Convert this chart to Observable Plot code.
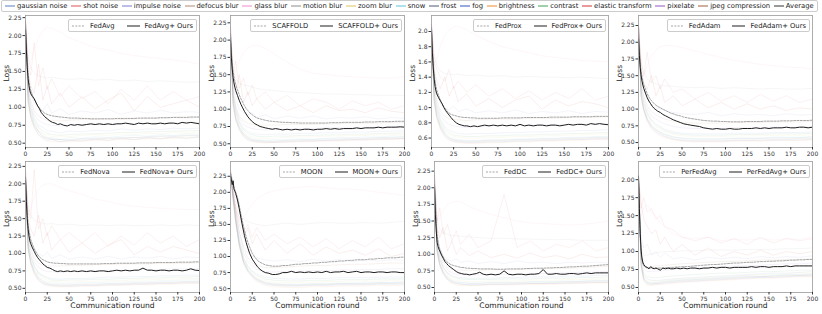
<!DOCTYPE html>
<html><head><meta charset="utf-8">
<script src="https://cdn.jsdelivr.net/npm/d3@7"></script>
<script src="https://cdn.jsdelivr.net/npm/@observablehq/plot@0.6"></script>
<style>
body{margin:0;background:#fff;}
#root{position:relative;width:822px;height:314px;overflow:hidden;font-family:"DejaVu Sans",sans-serif;color:#222;}
#root svg.plot{position:absolute;}
.leg{position:absolute;display:flex;align-items:center;height:13px;box-sizing:border-box;padding:0 3px;border:0.8px solid #ccc;border-radius:2px;background:rgba(255,255,255,0.85);font-size:6.8px;white-space:nowrap;}
.leg svg{margin-right:5px;}
.leg .gap{display:inline-block;width:12px;}
#topleg{position:absolute;left:1px;top:0;width:817px;height:12px;box-sizing:border-box;border:0.8px solid #ccc;border-radius:2px;display:flex;justify-content:space-between;align-items:center;padding:0 3px;font-size:6.8px;white-space:nowrap;}
#topleg .it{display:flex;align-items:center;}
#topleg svg{margin-right:2px;}
</style></head><body><div id="root"><div id="topleg"></div></div>
<script>
// ---------- shared labels ----------
const corruptions = ["gaussian noise","shot noise","impulse noise","defocus blur","glass blur","motion blur","zoom blur","snow","frost","fog","brightness","contrast","elastic transform","pixelate","jpeg compression"];
const corruptionColors = ["#5b7fc0","#e0505a","#7b7bd2","#b08e72","#f08cc8","#8c8c8c","#dcc35a","#62c2da","#4c5873","#3553c4","#f08a34","#3ea356","#d23434","#9455c4","#a0603a"];
const averageColor = "#333333";
const xTicks = [0,25,50,75,100,125,150,175,200];
const yTicks25 = [0.5,0.75,1.0,1.25,1.5,1.75,2.0,2.25];
const yTicksProx = [0.6,0.8,1.0,1.2,1.4,1.6,1.8,2.0];
const yTicksPer = [0.5,0.75,1.0,1.25,1.5,1.75,2.0];

// rounds at which the average curves were read
const mainRounds = [0,1,2,3,4,5,6,8,10,12,14,16,18,20,22,25,28,31,34,37,40,44,48,52,56,60,65,70,75,80,85,90,95,100,105,110,115,120,125,130,135,140,145,150,155,160,165,170,175,180,185,190,195,200];
// rounds at which the faint per-corruption curves were read
const faintRounds = [0,3,6,10,15,20,25,30,40,50,65,80,95,110,125,140,155,170,185,200];

// ---------- FedAvg ----------
const fedavgOurs = [2.08,1.80,1.56,1.40,1.30,1.23,1.19,1.15,1.12,1.07,1.02,0.98,0.93,0.90,0.87,0.84,0.81,0.79,0.78,0.76,0.77,0.75,0.74,0.76,0.75,0.76,0.75,0.76,0.77,0.76,0.77,0.76,0.77,0.76,0.77,0.77,0.78,0.77,0.76,0.78,0.77,0.78,0.77,0.77,0.78,0.77,0.78,0.78,0.77,0.79,0.78,0.79,0.78,0.77];
const fedavgBase = [2.12,1.86,1.63,1.47,1.36,1.29,1.24,1.17,1.11,1.06,1.02,0.99,0.96,0.94,0.92,0.90,0.89,0.88,0.875,0.87,0.865,0.86,0.855,0.85,0.85,0.85,0.845,0.845,0.84,0.84,0.84,0.84,0.84,0.84,0.845,0.845,0.845,0.845,0.845,0.85,0.85,0.85,0.85,0.85,0.855,0.855,0.855,0.86,0.86,0.86,0.86,0.865,0.865,0.865];
const fedavgFaint = [
 [2.2,1.2,1.0,0.86,0.75,0.72,0.67,0.67,0.64,0.67,0.66,0.68,0.67,0.7,0.68,0.7,0.69,0.71,0.7,0.71],
 [2.2,1.6,1.45,1.9,1.3,1.55,1.25,1.4,1.15,1.3,1.12,1.22,1.05,1.25,1.1,1.3,1.1,1.22,1.1,1.15],
 [2.2,1.4,1.2,1.05,1.0,0.95,1.05,0.92,0.98,0.9,0.95,0.92,0.97,0.9,0.95,0.92,0.96,0.92,0.94,0.93],
 [2.2,1.1,0.88,0.74,0.66,0.58,0.57,0.55,0.55,0.53,0.56,0.55,0.57,0.56,0.58,0.57,0.59,0.58,0.6,0.6],
 [2.2,1.55,1.65,1.8,1.97,2.07,2.12,2.1,2.05,1.97,1.9,1.83,1.8,1.75,1.72,1.7,1.68,1.66,1.64,1.6],
 [2.1,1.7,1.55,1.48,1.44,1.42,1.41,1.42,1.4,1.39,1.4,1.38,1.39,1.37,1.38,1.36,1.37,1.36,1.35,1.35],
 [2.2,1.15,0.95,0.8,0.71,0.63,0.62,0.59,0.6,0.59,0.61,0.62,0.61,0.63,0.62,0.64,0.63,0.65,0.64,0.66],
 [2.2,1.12,0.92,0.78,0.67,0.63,0.58,0.58,0.55,0.58,0.57,0.59,0.58,0.6,0.61,0.6,0.62,0.61,0.63,0.63],
 [2.2,1.1,0.9,0.76,0.66,0.6,0.57,0.56,0.55,0.55,0.56,0.57,0.57,0.58,0.58,0.59,0.6,0.6,0.61,0.61],
 [2.2,1.08,0.86,0.73,0.62,0.58,0.54,0.55,0.52,0.54,0.53,0.56,0.54,0.57,0.55,0.58,0.56,0.59,0.57,0.59],
 [2.2,1.05,0.84,0.71,0.61,0.56,0.53,0.52,0.52,0.52,0.53,0.54,0.54,0.55,0.55,0.56,0.56,0.57,0.57,0.58],
 [2.2,1.18,0.98,0.82,0.72,0.67,0.64,0.62,0.61,0.62,0.63,0.63,0.64,0.65,0.65,0.66,0.66,0.67,0.67,0.68],
 [2.2,1.5,1.3,1.2,1.6,1.1,1.3,1.05,1.2,1.0,1.15,0.98,1.1,1.2,0.95,1.15,1.0,1.05,1.1,1.0],
 [2.2,1.25,1.05,0.9,0.82,0.78,0.76,0.75,0.74,0.75,0.76,0.76,0.77,0.77,0.77,0.78,0.78,0.78,0.79,0.79],
 [2.2,1.3,1.1,0.95,0.88,0.84,0.82,0.82,0.81,0.82,0.83,0.83,0.84,0.83,0.84,0.85,0.85,0.86,0.85,0.86]
];

// ---------- SCAFFOLD ----------
const scaffoldOurs = [2.0,1.75,1.58,1.46,1.38,1.32,1.27,1.2,1.13,1.07,1.02,0.97,0.93,0.89,0.86,0.82,0.79,0.77,0.75,0.74,0.73,0.72,0.71,0.72,0.71,0.70,0.71,0.70,0.71,0.70,0.71,0.71,0.70,0.71,0.71,0.72,0.71,0.72,0.71,0.72,0.72,0.72,0.73,0.72,0.73,0.73,0.73,0.74,0.73,0.74,0.74,0.74,0.745,0.74];
const scaffoldBase = [2.05,1.82,1.66,1.55,1.47,1.41,1.36,1.28,1.21,1.15,1.1,1.05,1.01,0.98,0.95,0.92,0.89,0.87,0.86,0.85,0.84,0.83,0.825,0.82,0.815,0.81,0.81,0.805,0.805,0.80,0.80,0.80,0.80,0.80,0.80,0.80,0.805,0.805,0.805,0.81,0.81,0.81,0.81,0.81,0.815,0.815,0.815,0.82,0.82,0.82,0.82,0.825,0.825,0.825];
const scaffoldFaint = [
 [2.1,1.2,0.98,0.83,0.72,0.68,0.65,0.64,0.63,0.64,0.64,0.65,0.65,0.66,0.66,0.67,0.67,0.68,0.68,0.69],
 [2.2,1.5,1.7,1.3,1.45,1.2,1.35,1.15,1.25,1.1,1.2,1.05,1.15,1.1,1.0,1.12,1.05,1.1,1.0,1.05],
 [2.2,1.35,1.15,1.0,0.95,0.92,0.95,0.88,0.92,0.86,0.9,0.87,0.9,0.86,0.88,0.87,0.89,0.86,0.88,0.87],
 [2.1,1.08,0.86,0.72,0.63,0.57,0.55,0.54,0.53,0.53,0.54,0.54,0.55,0.55,0.56,0.56,0.57,0.57,0.58,0.58],
 [2.2,1.45,1.55,1.7,1.82,1.88,1.92,1.93,1.88,1.8,1.68,1.58,1.52,1.5,1.48,1.47,1.46,1.45,1.45,1.47],
 [2.1,1.6,1.45,1.38,1.35,1.34,1.32,1.3,1.28,1.27,1.25,1.24,1.23,1.22,1.22,1.21,1.21,1.2,1.2,1.2],
 [2.1,1.13,0.93,0.78,0.68,0.62,0.6,0.58,0.58,0.58,0.59,0.6,0.6,0.61,0.61,0.62,0.62,0.63,0.63,0.64],
 [2.1,1.1,0.9,0.76,0.65,0.6,0.57,0.56,0.55,0.56,0.56,0.57,0.57,0.58,0.59,0.59,0.6,0.6,0.61,0.61],
 [2.1,1.1,0.88,0.74,0.64,0.59,0.56,0.55,0.54,0.54,0.55,0.56,0.56,0.57,0.57,0.58,0.58,0.59,0.59,0.6],
 [2.1,1.06,0.85,0.71,0.61,0.56,0.54,0.53,0.52,0.52,0.53,0.54,0.54,0.55,0.55,0.56,0.56,0.57,0.57,0.58],
 [2.1,1.04,0.83,0.7,0.6,0.55,0.53,0.52,0.51,0.52,0.52,0.53,0.53,0.54,0.54,0.55,0.55,0.56,0.56,0.57],
 [2.1,1.16,0.96,0.8,0.7,0.65,0.63,0.61,0.6,0.61,0.61,0.62,0.62,0.63,0.63,0.64,0.64,0.65,0.65,0.66],
 [2.2,1.4,1.25,1.5,1.1,1.25,1.05,1.15,1.0,1.1,0.98,1.05,0.95,1.05,0.98,1.0,0.95,1.02,0.97,0.95],
 [2.1,1.22,1.02,0.87,0.78,0.74,0.72,0.71,0.7,0.71,0.71,0.72,0.72,0.73,0.73,0.73,0.74,0.74,0.74,0.75],
 [2.1,1.28,1.05,0.9,0.83,0.8,0.78,0.77,0.77,0.77,0.78,0.78,0.78,0.79,0.79,0.8,0.8,0.8,0.81,0.81]
];

// ---------- FedProx ----------
const fedproxOurs = [2.0,1.72,1.52,1.38,1.28,1.22,1.18,1.13,1.09,1.05,1.0,0.96,0.93,0.9,0.87,0.83,0.8,0.78,0.77,0.76,0.76,0.75,0.76,0.75,0.76,0.77,0.76,0.77,0.76,0.77,0.76,0.77,0.76,0.78,0.76,0.77,0.76,0.77,0.77,0.76,0.77,0.77,0.76,0.77,0.78,0.77,0.78,0.78,0.77,0.79,0.78,0.79,0.78,0.775];
const fedproxBase = [2.05,1.78,1.58,1.45,1.35,1.28,1.23,1.16,1.1,1.05,1.01,0.98,0.95,0.93,0.91,0.9,0.89,0.88,0.875,0.87,0.87,0.865,0.865,0.86,0.86,0.86,0.86,0.86,0.86,0.865,0.865,0.865,0.865,0.865,0.87,0.87,0.87,0.87,0.87,0.87,0.875,0.875,0.875,0.875,0.875,0.88,0.88,0.88,0.88,0.88,0.885,0.885,0.885,0.885];
const fedproxFaint = [
 [2.05,1.2,1.0,0.85,0.75,0.7,0.68,0.66,0.65,0.66,0.66,0.67,0.67,0.68,0.68,0.69,0.69,0.7,0.7,0.71],
 [2.1,1.6,1.5,1.4,1.35,1.5,1.25,1.35,1.2,1.3,1.15,1.25,1.12,1.22,1.1,1.2,1.12,1.25,1.1,1.15],
 [2.1,1.4,1.2,1.05,1.0,0.97,1.02,0.95,0.98,0.93,0.96,0.93,0.97,0.92,0.95,0.93,0.96,0.92,0.95,0.94],
 [2.05,1.1,0.88,0.75,0.65,0.6,0.57,0.56,0.55,0.55,0.56,0.56,0.57,0.57,0.58,0.58,0.59,0.59,0.6,0.6],
 [2.1,1.55,1.65,1.8,1.95,2.02,2.06,2.07,2.02,1.95,1.87,1.8,1.76,1.72,1.68,1.66,1.64,1.62,1.61,1.6],
 [2.05,1.7,1.55,1.48,1.45,1.44,1.43,1.44,1.42,1.43,1.41,1.42,1.4,1.41,1.4,1.4,1.39,1.4,1.39,1.38],
 [2.05,1.15,0.95,0.8,0.7,0.65,0.62,0.61,0.6,0.6,0.61,0.61,0.62,0.62,0.63,0.63,0.64,0.64,0.65,0.65],
 [2.05,1.12,0.92,0.78,0.68,0.62,0.59,0.58,0.57,0.57,0.58,0.58,0.59,0.59,0.6,0.6,0.61,0.61,0.62,0.62],
 [2.05,1.1,0.9,0.76,0.66,0.6,0.58,0.57,0.56,0.56,0.57,0.57,0.58,0.58,0.59,0.59,0.6,0.6,0.61,0.61],
 [2.05,1.08,0.87,0.73,0.63,0.58,0.56,0.55,0.54,0.54,0.55,0.55,0.56,0.56,0.57,0.57,0.58,0.58,0.59,0.59],
 [2.05,1.06,0.85,0.71,0.61,0.57,0.55,0.54,0.53,0.53,0.54,0.54,0.55,0.55,0.56,0.56,0.57,0.57,0.58,0.58],
 [2.05,1.18,0.98,0.82,0.72,0.67,0.64,0.63,0.62,0.62,0.63,0.63,0.64,0.64,0.65,0.65,0.66,0.66,0.67,0.67],
 [2.1,1.5,1.35,1.25,1.4,1.15,1.28,1.08,1.18,1.02,1.12,1.0,1.1,1.15,0.98,1.1,1.02,1.08,1.05,1.0],
 [2.05,1.25,1.05,0.9,0.82,0.78,0.76,0.75,0.74,0.75,0.76,0.76,0.77,0.77,0.77,0.78,0.78,0.78,0.79,0.79],
 [2.05,1.3,1.1,0.95,0.88,0.85,0.84,0.84,0.83,0.84,0.85,0.85,0.85,0.86,0.86,0.86,0.87,0.87,0.87,0.88]
];

// ---------- FedAdam ----------
const fedadamOurs = [2.05,1.8,1.62,1.5,1.42,1.36,1.31,1.24,1.17,1.12,1.08,1.04,1.01,0.99,0.97,0.95,0.92,0.9,0.88,0.86,0.84,0.82,0.8,0.78,0.77,0.76,0.75,0.74,0.72,0.71,0.70,0.71,0.70,0.70,0.71,0.70,0.70,0.71,0.71,0.71,0.72,0.71,0.72,0.71,0.72,0.72,0.72,0.73,0.72,0.72,0.73,0.73,0.72,0.73];
const fedadamBase = [2.1,1.85,1.68,1.56,1.48,1.42,1.37,1.3,1.23,1.18,1.14,1.11,1.08,1.06,1.04,1.02,1.0,0.98,0.96,0.94,0.93,0.91,0.9,0.88,0.87,0.86,0.85,0.84,0.83,0.825,0.82,0.82,0.815,0.815,0.81,0.81,0.81,0.81,0.815,0.815,0.815,0.815,0.82,0.82,0.82,0.82,0.825,0.825,0.825,0.83,0.83,0.83,0.83,0.835];
const fedadamFaint = [
 [2.25,1.3,1.1,0.95,0.84,0.78,0.74,0.7,0.66,0.64,0.63,0.63,0.63,0.64,0.64,0.64,0.65,0.65,0.65,0.66],
 [2.25,1.7,1.5,1.85,1.4,1.5,1.3,1.45,1.25,1.3,1.15,1.25,1.12,1.2,1.1,1.22,1.12,1.2,1.1,1.15],
 [2.25,1.5,1.3,1.15,1.05,1.02,1.0,0.98,0.95,0.93,0.92,0.95,0.9,0.93,0.91,0.92,0.9,0.93,0.91,0.92],
 [2.25,1.2,1.0,0.85,0.74,0.68,0.64,0.6,0.56,0.54,0.53,0.53,0.53,0.54,0.54,0.55,0.55,0.55,0.56,0.56],
 [2.25,1.45,1.5,1.65,1.8,1.88,1.93,1.95,1.95,1.92,1.87,1.82,1.77,1.73,1.7,1.67,1.65,1.63,1.62,1.6],
 [2.15,1.7,1.55,1.45,1.4,1.38,1.36,1.35,1.34,1.33,1.32,1.33,1.31,1.32,1.31,1.3,1.31,1.3,1.3,1.31],
 [2.25,1.25,1.05,0.9,0.79,0.73,0.69,0.66,0.62,0.6,0.59,0.59,0.59,0.6,0.6,0.6,0.61,0.61,0.61,0.62],
 [2.25,1.22,1.02,0.87,0.76,0.7,0.66,0.63,0.59,0.57,0.56,0.56,0.56,0.57,0.57,0.57,0.58,0.58,0.58,0.59],
 [2.25,1.2,1.0,0.85,0.75,0.69,0.65,0.62,0.58,0.56,0.55,0.55,0.55,0.56,0.56,0.56,0.57,0.57,0.57,0.58],
 [2.25,1.18,0.98,0.83,0.72,0.66,0.62,0.59,0.55,0.53,0.52,0.52,0.52,0.53,0.53,0.53,0.54,0.54,0.54,0.55],
 [2.25,1.16,0.96,0.81,0.7,0.64,0.6,0.57,0.54,0.52,0.51,0.51,0.51,0.52,0.52,0.52,0.53,0.53,0.53,0.54],
 [2.25,1.28,1.08,0.93,0.82,0.76,0.72,0.68,0.64,0.62,0.61,0.61,0.61,0.62,0.62,0.62,0.63,0.63,0.63,0.64],
 [2.25,1.6,1.4,1.3,1.5,1.2,1.35,1.1,1.2,1.05,1.15,1.02,1.1,1.0,1.08,1.0,1.05,0.98,1.02,1.0],
 [2.25,1.35,1.15,1.0,0.9,0.85,0.81,0.78,0.74,0.72,0.71,0.71,0.71,0.72,0.72,0.72,0.73,0.73,0.73,0.74],
 [2.25,1.4,1.2,1.05,0.96,0.91,0.88,0.85,0.82,0.8,0.79,0.79,0.79,0.8,0.8,0.8,0.81,0.81,0.81,0.82]
];

// ---------- FedNova ----------
const fednovaOurs = [2.05,1.75,1.5,1.35,1.25,1.18,1.14,1.08,1.03,0.98,0.94,0.91,0.88,0.85,0.83,0.8,0.79,0.77,0.75,0.74,0.75,0.74,0.75,0.74,0.75,0.74,0.75,0.74,0.75,0.74,0.75,0.75,0.74,0.75,0.76,0.75,0.76,0.75,0.76,0.76,0.79,0.76,0.76,0.75,0.76,0.76,0.75,0.76,0.76,0.75,0.76,0.78,0.76,0.755];
const fednovaBase = [2.1,1.82,1.58,1.43,1.33,1.26,1.2,1.13,1.07,1.02,0.98,0.95,0.93,0.91,0.9,0.88,0.87,0.865,0.86,0.86,0.855,0.855,0.85,0.85,0.85,0.85,0.85,0.85,0.85,0.85,0.85,0.855,0.855,0.855,0.86,0.86,0.86,0.86,0.86,0.865,0.865,0.865,0.865,0.87,0.87,0.87,0.87,0.87,0.875,0.875,0.875,0.875,0.88,0.88];
const fednovaFaint = [
 [2.1,1.15,0.95,0.82,0.72,0.68,0.66,0.64,0.63,0.64,0.64,0.65,0.66,0.66,0.67,0.67,0.68,0.68,0.69,0.69],
 [2.2,1.6,1.5,2.2,1.35,1.5,1.25,1.4,1.2,1.3,1.15,1.3,1.1,1.25,1.12,1.3,1.15,1.25,1.1,1.2],
 [2.2,1.4,1.2,1.05,1.0,0.96,1.02,0.93,0.98,0.92,0.95,0.92,0.96,0.92,0.95,0.93,0.96,0.92,0.95,0.94],
 [2.1,1.08,0.87,0.73,0.63,0.58,0.56,0.55,0.54,0.54,0.55,0.55,0.56,0.56,0.57,0.57,0.58,0.58,0.59,0.59],
 [2.2,1.55,1.65,1.8,1.92,1.98,2.0,2.0,1.95,1.9,1.85,1.78,1.75,1.7,1.68,1.66,1.65,1.64,1.63,1.63],
 [2.1,1.7,1.55,1.48,1.45,1.43,1.42,1.43,1.41,1.42,1.4,1.41,1.4,1.41,1.4,1.4,1.41,1.4,1.41,1.4],
 [2.1,1.12,0.93,0.79,0.69,0.64,0.61,0.6,0.59,0.59,0.6,0.6,0.61,0.61,0.62,0.62,0.63,0.63,0.64,0.64],
 [2.1,1.1,0.9,0.77,0.67,0.61,0.59,0.58,0.57,0.57,0.58,0.58,0.59,0.59,0.6,0.6,0.61,0.61,0.62,0.62],
 [2.1,1.08,0.88,0.75,0.65,0.6,0.57,0.56,0.55,0.55,0.56,0.56,0.57,0.57,0.58,0.58,0.59,0.59,0.6,0.6],
 [2.1,1.06,0.86,0.72,0.62,0.57,0.55,0.54,0.53,0.53,0.54,0.54,0.55,0.55,0.56,0.56,0.57,0.57,0.58,0.58],
 [2.1,1.04,0.84,0.7,0.6,0.56,0.54,0.53,0.52,0.52,0.53,0.53,0.54,0.54,0.55,0.55,0.56,0.56,0.57,0.57],
 [2.1,1.16,0.97,0.82,0.72,0.67,0.64,0.62,0.61,0.62,0.62,0.63,0.63,0.64,0.64,0.65,0.65,0.66,0.66,0.67],
 [2.2,1.5,1.35,1.25,1.55,1.15,1.3,1.05,1.2,1.02,1.15,1.0,1.12,1.2,0.98,1.1,1.02,1.1,1.05,1.0],
 [2.1,1.22,1.03,0.88,0.8,0.76,0.74,0.74,0.73,0.74,0.75,0.75,0.76,0.76,0.76,0.77,0.77,0.78,0.78,0.78],
 [2.1,1.28,1.08,0.93,0.86,0.83,0.82,0.82,0.82,0.83,0.83,0.84,0.84,0.85,0.85,0.85,0.86,0.86,0.86,0.87]
];

// ---------- MOON ----------
const moonOurs = [2.25,2.2,2.12,2.18,2.05,2.02,1.98,1.88,1.75,1.6,1.46,1.33,1.22,1.13,1.05,0.96,0.9,0.84,0.8,0.77,0.75,0.74,0.72,0.72,0.73,0.75,0.75,0.77,0.75,0.76,0.75,0.76,0.75,0.76,0.75,0.77,0.75,0.76,0.76,0.77,0.75,0.76,0.77,0.75,0.76,0.76,0.75,0.76,0.76,0.75,0.76,0.76,0.75,0.75];
const moonBase = [2.3,2.25,2.18,2.12,2.08,2.04,2.0,1.92,1.8,1.66,1.53,1.41,1.31,1.22,1.15,1.05,0.99,0.94,0.91,0.89,0.87,0.86,0.85,0.85,0.85,0.86,0.86,0.87,0.88,0.88,0.89,0.89,0.9,0.9,0.91,0.91,0.92,0.92,0.93,0.93,0.94,0.94,0.95,0.95,0.95,0.96,0.96,0.97,0.97,0.98,0.98,0.98,0.99,0.99];
const moonFaint = [
 [2.3,1.95,1.6,1.25,0.98,0.85,0.78,0.73,0.68,0.66,0.65,0.65,0.66,0.66,0.67,0.67,0.67,0.68,0.68,0.68],
 [2.35,2.1,1.8,1.6,1.4,1.5,1.3,1.45,1.25,1.35,1.2,1.3,1.15,1.28,1.12,1.25,1.15,1.3,1.12,1.2],
 [2.35,2.0,1.7,1.4,1.15,1.05,1.0,0.98,0.95,0.93,0.95,0.92,0.96,0.93,0.95,0.92,0.95,0.93,0.95,0.94],
 [2.3,1.9,1.55,1.2,0.92,0.78,0.7,0.64,0.58,0.56,0.55,0.55,0.56,0.56,0.57,0.57,0.57,0.58,0.58,0.58],
 [2.3,1.95,1.7,1.55,1.6,1.72,1.82,1.9,1.98,2.02,2.06,2.08,2.09,2.07,2.05,2.05,2.03,2.0,1.98,1.95],
 [2.3,1.95,1.72,1.62,1.58,1.55,1.52,1.5,1.48,1.5,1.52,1.5,1.52,1.53,1.52,1.52,1.53,1.52,1.53,1.55],
 [2.3,1.92,1.58,1.22,0.95,0.82,0.74,0.68,0.62,0.6,0.59,0.6,0.6,0.61,0.61,0.62,0.62,0.62,0.63,0.63],
 [2.3,1.9,1.56,1.2,0.93,0.8,0.72,0.66,0.6,0.58,0.57,0.57,0.58,0.58,0.59,0.59,0.6,0.6,0.6,0.61],
 [2.3,1.9,1.55,1.19,0.92,0.79,0.71,0.65,0.59,0.57,0.56,0.56,0.57,0.57,0.58,0.58,0.58,0.59,0.59,0.6],
 [2.3,1.88,1.53,1.17,0.9,0.77,0.69,0.63,0.57,0.55,0.54,0.54,0.55,0.55,0.56,0.56,0.56,0.57,0.57,0.57],
 [2.3,1.87,1.52,1.16,0.88,0.75,0.67,0.61,0.55,0.53,0.52,0.52,0.53,0.53,0.54,0.54,0.54,0.55,0.55,0.55],
 [2.3,1.93,1.6,1.24,0.97,0.84,0.76,0.71,0.65,0.63,0.62,0.62,0.63,0.63,0.64,0.64,0.64,0.65,0.65,0.65],
 [2.35,2.05,1.75,1.5,1.3,1.45,1.2,1.35,1.1,1.25,1.05,1.2,1.02,1.15,1.05,1.1,1.02,1.12,1.0,1.05],
 [2.3,1.96,1.65,1.3,1.05,0.92,0.85,0.8,0.76,0.76,0.77,0.77,0.78,0.78,0.79,0.79,0.8,0.8,0.81,0.81],
 [2.3,2.0,1.7,1.38,1.12,0.98,0.9,0.86,0.83,0.83,0.84,0.85,0.86,0.86,0.87,0.88,0.88,0.89,0.9,0.9]
];

// ---------- FedDC ----------
const feddcOurs = [2.0,1.6,1.35,1.18,1.12,1.08,1.05,0.99,0.94,0.89,0.86,0.83,0.81,0.79,0.77,0.74,0.72,0.71,0.7,0.7,0.69,0.7,0.71,0.73,0.7,0.69,0.7,0.69,0.7,0.75,0.7,0.69,0.7,0.7,0.69,0.7,0.7,0.71,0.77,0.7,0.7,0.71,0.7,0.7,0.71,0.71,0.7,0.71,0.72,0.71,0.72,0.72,0.72,0.72];
const feddcBase = [2.05,1.7,1.45,1.3,1.2,1.13,1.08,1.01,0.96,0.92,0.89,0.87,0.85,0.84,0.83,0.82,0.81,0.8,0.8,0.79,0.79,0.785,0.785,0.78,0.78,0.78,0.78,0.775,0.775,0.775,0.78,0.78,0.78,0.78,0.785,0.785,0.79,0.79,0.79,0.795,0.795,0.8,0.8,0.805,0.81,0.81,0.815,0.82,0.82,0.825,0.83,0.835,0.84,0.845];
const feddcFaint = [
 [2.05,1.1,0.92,0.8,0.72,0.68,0.66,0.65,0.64,0.64,0.64,0.65,0.65,0.66,0.66,0.66,0.67,0.67,0.68,0.68],
 [2.2,1.5,1.7,1.3,1.45,1.2,1.35,1.15,1.3,1.1,1.2,1.9,1.1,1.2,1.05,1.15,1.1,1.2,1.05,1.1],
 [2.2,1.3,1.1,0.98,0.92,0.9,0.93,0.88,0.9,0.86,0.89,0.86,0.9,0.87,0.88,0.86,0.88,0.87,0.88,0.87],
 [2.05,1.05,0.85,0.72,0.63,0.58,0.56,0.55,0.54,0.54,0.55,0.55,0.56,0.56,0.56,0.57,0.57,0.58,0.58,0.58],
 [2.2,1.5,1.55,1.65,1.75,1.78,1.8,1.79,1.72,1.66,1.6,1.55,1.5,1.47,1.46,1.45,1.44,1.45,1.47,1.5],
 [2.1,1.5,1.38,1.32,1.3,1.28,1.28,1.27,1.26,1.25,1.24,1.24,1.23,1.23,1.22,1.22,1.22,1.21,1.21,1.21],
 [2.05,1.08,0.9,0.77,0.68,0.63,0.61,0.6,0.59,0.59,0.6,0.6,0.6,0.61,0.61,0.61,0.62,0.62,0.63,0.63],
 [2.05,1.06,0.88,0.75,0.66,0.61,0.59,0.58,0.57,0.57,0.58,0.58,0.58,0.59,0.59,0.59,0.6,0.6,0.61,0.61],
 [2.05,1.05,0.86,0.73,0.64,0.6,0.58,0.57,0.56,0.56,0.57,0.57,0.57,0.58,0.58,0.58,0.59,0.59,0.6,0.6],
 [2.05,1.03,0.84,0.71,0.62,0.58,0.56,0.55,0.54,0.54,0.55,0.55,0.55,0.56,0.56,0.56,0.57,0.57,0.58,0.58],
 [2.05,1.02,0.83,0.7,0.61,0.56,0.54,0.53,0.53,0.53,0.54,0.54,0.54,0.55,0.55,0.55,0.56,0.56,0.57,0.57],
 [2.05,1.12,0.94,0.81,0.71,0.66,0.64,0.63,0.62,0.62,0.62,0.63,0.63,0.63,0.64,0.64,0.64,0.65,0.65,0.66],
 [2.2,1.4,1.25,1.4,1.05,1.2,1.0,1.1,0.98,1.05,0.95,1.0,0.94,1.02,0.95,0.98,0.93,1.0,0.95,0.96],
 [2.05,1.18,0.98,0.84,0.76,0.72,0.7,0.7,0.69,0.69,0.7,0.7,0.7,0.71,0.71,0.72,0.72,0.73,0.73,0.74],
 [2.05,1.25,1.03,0.88,0.8,0.77,0.76,0.76,0.76,0.76,0.77,0.77,0.77,0.78,0.78,0.79,0.79,0.8,0.81,0.82]
];

// ---------- PerFedAvg ----------
const perfedavgOurs = [2.05,1.6,1.25,1.02,0.91,0.85,0.82,0.79,0.78,0.76,0.79,0.77,0.76,0.77,0.76,0.74,0.77,0.76,0.77,0.76,0.76,0.77,0.76,0.77,0.76,0.77,0.77,0.76,0.77,0.77,0.78,0.77,0.78,0.78,0.77,0.78,0.78,0.78,0.78,0.79,0.78,0.79,0.79,0.78,0.79,0.79,0.79,0.8,0.79,0.8,0.8,0.8,0.8,0.8];
const perfedavgBase = [2.05,1.55,1.2,0.98,0.88,0.83,0.8,0.78,0.77,0.77,0.77,0.77,0.77,0.77,0.77,0.77,0.77,0.775,0.775,0.78,0.78,0.785,0.785,0.79,0.79,0.795,0.8,0.805,0.81,0.815,0.82,0.82,0.825,0.83,0.835,0.84,0.84,0.845,0.85,0.85,0.855,0.86,0.86,0.865,0.865,0.87,0.87,0.875,0.88,0.88,0.885,0.885,0.89,0.89];
const perfedavgFaint = [
 [2.0,0.85,0.68,0.62,0.6,0.6,0.6,0.61,0.62,0.63,0.64,0.65,0.66,0.67,0.68,0.69,0.7,0.7,0.71,0.72],
 [2.0,1.6,1.75,1.55,1.6,1.45,1.5,1.35,1.3,1.2,1.15,1.2,1.12,1.18,1.1,1.2,1.12,1.18,1.15,1.18],
 [2.0,1.2,1.05,1.1,0.95,1.0,0.92,0.98,0.9,0.92,0.88,0.92,0.9,0.92,0.9,0.93,0.91,0.93,0.92,0.94],
 [2.0,0.8,0.62,0.56,0.55,0.56,0.56,0.57,0.58,0.59,0.6,0.61,0.62,0.63,0.64,0.65,0.65,0.66,0.67,0.67],
 [2.0,1.5,1.6,1.65,1.55,1.5,1.4,1.35,1.25,1.2,1.18,1.2,1.15,1.17,1.16,1.18,1.16,1.18,1.17,1.2],
 [2.0,1.05,0.95,0.95,0.97,0.98,0.99,1.0,1.0,1.01,1.01,1.02,1.02,1.02,1.03,1.03,1.03,1.04,1.04,1.05],
 [2.0,0.84,0.66,0.6,0.59,0.59,0.59,0.6,0.61,0.62,0.63,0.64,0.65,0.66,0.67,0.68,0.68,0.69,0.7,0.7],
 [2.0,0.83,0.64,0.58,0.57,0.57,0.58,0.59,0.6,0.61,0.62,0.63,0.64,0.65,0.66,0.66,0.67,0.68,0.68,0.69],
 [2.0,0.82,0.63,0.57,0.56,0.56,0.57,0.58,0.59,0.6,0.61,0.62,0.63,0.64,0.65,0.65,0.66,0.67,0.67,0.68],
 [2.0,0.8,0.6,0.55,0.54,0.55,0.55,0.56,0.57,0.58,0.59,0.6,0.61,0.62,0.63,0.64,0.64,0.65,0.66,0.66],
 [2.0,0.78,0.58,0.53,0.53,0.54,0.54,0.55,0.56,0.57,0.58,0.59,0.6,0.61,0.62,0.63,0.63,0.64,0.65,0.65],
 [2.0,0.87,0.7,0.65,0.64,0.64,0.64,0.65,0.66,0.67,0.68,0.69,0.7,0.7,0.71,0.72,0.72,0.73,0.74,0.74],
 [2.0,1.7,1.45,1.35,1.25,1.3,1.1,1.2,1.0,1.1,0.95,1.05,0.93,1.0,0.95,1.02,0.95,1.0,0.97,1.0],
 [2.0,0.9,0.76,0.72,0.72,0.73,0.73,0.74,0.75,0.76,0.77,0.78,0.79,0.8,0.8,0.81,0.82,0.83,0.83,0.84],
 [2.0,0.95,0.82,0.78,0.79,0.8,0.8,0.81,0.82,0.83,0.84,0.85,0.86,0.86,0.87,0.88,0.88,0.89,0.89,0.9]
];

// ---------- layout / build ----------
const panels = [
 {name:"FedAvg", ours:fedavgOurs, base:fedavgBase, faint:fedavgFaint, y:[0.44,2.28], ticks:yTicks25, fmt:".2f", fx:25, fy:15, fw:174, fh:132, xl:false},
 {name:"SCAFFOLD", ours:scaffoldOurs, base:scaffoldBase, faint:scaffoldFaint, y:[0.446,2.356], ticks:yTicks25, fmt:".2f", fx:230, fy:15, fw:174, fh:132, xl:false},
 {name:"FedProx", ours:fedproxOurs, base:fedproxBase, faint:fedproxFaint, y:[0.476,2.21], ticks:yTicksProx, fmt:".1f", fx:431, fy:15, fw:177, fh:132, xl:false},
 {name:"FedAdam", ours:fedadamOurs, base:fedadamBase, faint:fedadamFaint, y:[0.426,2.40], ticks:yTicks25, fmt:".2f", fx:638, fy:15, fw:174, fh:132, xl:false},
 {name:"FedNova", ours:fednovaOurs, base:fednovaBase, faint:fednovaFaint, y:[0.44,2.32], ticks:yTicks25, fmt:".2f", fx:25, fy:161, fw:174, fh:131, xl:true},
 {name:"MOON", ours:moonOurs, base:moonBase, faint:moonFaint, y:[0.44,2.48], ticks:yTicks25, fmt:".2f", fx:230, fy:161, fw:174, fh:131, xl:true},
 {name:"FedDC", ours:feddcOurs, base:feddcBase, faint:feddcFaint, y:[0.425,2.395], ticks:yTicks25, fmt:".2f", fx:434, fy:161, fw:174, fh:131, xl:true},
 {name:"PerFedAvg", ours:perfedavgOurs, base:perfedavgBase, faint:perfedavgFaint, y:[0.43,2.253], ticks:yTicksPer, fmt:".2f", fx:638, fy:161, fw:174, fh:131, xl:true}
];

const root = document.getElementById("root");
const mL = 30, mR = 6, mT = 4, mB = 24;
const toRows = (rounds, vals) => rounds.map((r, i) => ({r, v: vals[i]})).filter(d => d.v != null);

for (const p of panels) {
  const faintMarks = p.faint.map((vals, k) =>
    Plot.line(toRows(faintRounds, vals), {x:"r", y:"v", stroke: corruptionColors[k], strokeOpacity:0.14, strokeWidth:0.6, clip:true}));
  const svg = Plot.plot({
    width: p.fw + mL + mR, height: p.fh + mT + mB,
    marginLeft: mL, marginRight: mR, marginTop: mT, marginBottom: mB,
    x: {domain:[0,200]}, y: {domain: p.y},
    style: {fontFamily:'"DejaVu Sans", sans-serif', fontSize:"6px", color:"#333", background:"transparent", overflow:"visible"},
    marks: [
      ...faintMarks,
      Plot.line(toRows(mainRounds, p.base), {x:"r", y:"v", stroke:"#888", strokeWidth:0.75, strokeDasharray:"2,1.3", clip:true}),
      Plot.line(toRows(mainRounds, p.ours), {x:"r", y:"v", stroke:"#1e1e1e", strokeWidth:1.0, clip:true}),
      Plot.frame({stroke:"#9a9a9a", strokeWidth:0.8}),
      Plot.axisX({ticks: xTicks, tickSize:2.5, tickPadding:1.5, label:null, fontSize:6}),
      Plot.axisY({ticks: p.ticks, tickSize:2.5, tickPadding:1.5, tickFormat: d3.format(p.fmt), label:null, fontSize:6}),
      Plot.text(["Loss"], {text: d => d, frameAnchor:"left", dx:-19, rotate:-90, fontSize:7.6, fill:"#222"}),
      ...(p.xl ? [Plot.text(["Communication round"], {text: d => d, frameAnchor:"bottom", dy:15, fontSize:7.6, fill:"#222"})] : [])
    ]
  });
  svg.classList.add("plot");
  svg.style.left = (p.fx - mL) + "px";
  svg.style.top = (p.fy - mT) + "px";
  root.appendChild(svg);

  const lg = document.createElement("div");
  lg.className = "leg";
  lg.style.right = (822 - (p.fx + p.fw) + 2) + "px";
  lg.style.top = (p.fy + 4) + "px";
  lg.innerHTML =
    `<svg width="13" height="6"><line x1="0" x2="13" y1="3" y2="3" stroke="#888" stroke-width="0.75" stroke-dasharray="2,1.3"/></svg><span>${p.name}</span><span class="gap"></span>` +
    `<svg width="13" height="6"><line x1="0" x2="13" y1="3" y2="3" stroke="#1e1e1e" stroke-width="1.0"/></svg><span>${p.name}+ Ours</span>`;
  root.appendChild(lg);
}

// top legend
const topLeg = document.getElementById("topleg");
const legNames = [...corruptions, "Average"];
const legColors = [...corruptionColors, averageColor];
legNames.forEach((n, i) => {
  const it = document.createElement("div");
  it.className = "it";
  it.innerHTML = `<svg width="10" height="6"><line x1="0" x2="10" y1="3" y2="3" stroke="${legColors[i]}" stroke-width="1"/></svg><span>${n}</span>`;
  topLeg.appendChild(it);
});
</script></body></html>
